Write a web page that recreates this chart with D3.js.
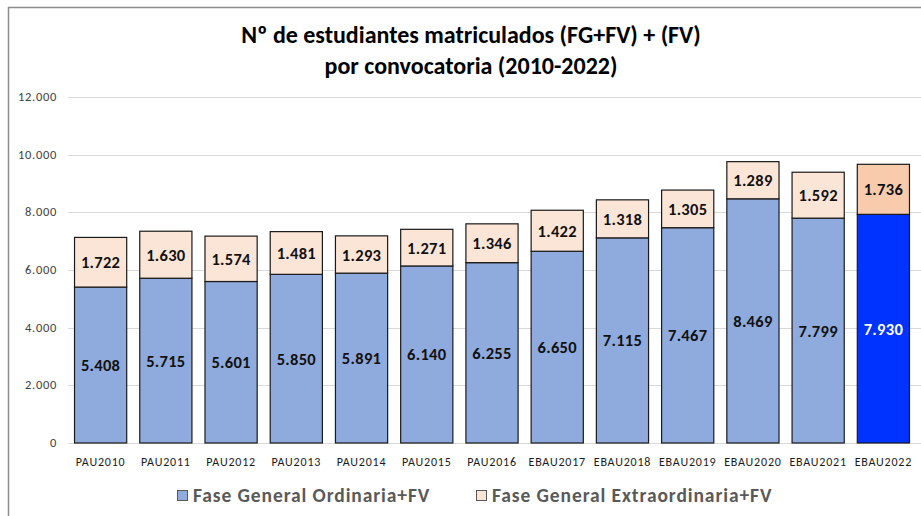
<!DOCTYPE html>
<html>
<head>
<meta charset="utf-8">
<script src="https://cdn.jsdelivr.net/npm/d3@7"></script>
<style>
  body { margin: 0; background: #fff; }
  svg { display: block; font-family: Carlito, "Open Sans", "Liberation Sans", sans-serif; }
</style>
</head>
<body>
<div id="chart"></div>
<script>
const categories = ["PAU2010", "PAU2011", "PAU2012", "PAU2013", "PAU2014", "PAU2015", "PAU2016",
  "EBAU2017", "EBAU2018", "EBAU2019", "EBAU2020", "EBAU2021", "EBAU2022"];
const ordinaria = [5408, 5715, 5601, 5850, 5891, 6140, 6255, 6650, 7115, 7467, 8469, 7799, 7930];
const extraordinaria = [1722, 1630, 1574, 1481, 1293, 1271, 1346, 1422, 1318, 1305, 1289, 1592, 1736];
const yTicks = [0, 2000, 4000, 6000, 8000, 10000, 12000];
const seriesNames = ["Fase General Ordinaria+FV", "Fase General Extraordinaria+FV"];

const width = 921, height = 516;
const margin = { left: 68, right: 5, top: 97, bottom: 73 };

const svg = d3.select("#chart").append("svg")
  .attr("width", width)
  .attr("height", height);

// outer frame (only top and left visible)
svg.append("path")
  .attr("d", `M8.5,${height} V7.5 H${width}`)
  .attr("fill", "none")
  .attr("stroke", "#8c8c8c")
  .attr("stroke-width", 1.5);

// title
const title = svg.append("text")
  .attr("text-anchor", "middle")
  .attr("font-weight", "bold")
  .attr("font-size", 24)
  .attr("fill", "#000");
title.append("tspan").attr("x", 471).attr("y", 43).text("Nº de estudiantes matriculados (FG+FV) + (FV)");
title.append("tspan").attr("x", 471).attr("y", 74).text("por convocatoria (2010-2022)");

const x = d3.scaleBand()
  .domain(categories)
  .range([margin.left, width - margin.right])
  .paddingInner(0.2)
  .paddingOuter(0.1);

const y = d3.scaleLinear()
  .domain([0, 12000])
  .range([height - margin.bottom, margin.top]);

const fmt = v => d3.format(",")(v).replace(/,/g, ".");

// gridlines
svg.append("g")
  .selectAll("line")
  .data(yTicks)
  .enter().append("line")
  .attr("x1", margin.left)
  .attr("x2", width)
  .attr("y1", d => Math.round(y(d)) + 0.5)
  .attr("y2", d => Math.round(y(d)) + 0.5)
  .attr("stroke", "#d9d9d9")
  .attr("stroke-width", 1);

// y tick labels
svg.append("g")
  .selectAll("text")
  .data(yTicks)
  .enter().append("text")
  .attr("x", 57)
  .attr("y", d => y(d) + 4)
  .attr("text-anchor", "end")
  .attr("font-size", 12.5)
  .attr("letter-spacing", 0.7)
  .attr("fill", "#404040")
  .text(fmt);

const last = categories.length - 1;
const data = categories.map((c, i) => ({ cat: c, ord: ordinaria[i], ext: extraordinaria[i], i }));

const bars = svg.append("g");

// bottom segment
bars.selectAll("rect.ord")
  .data(data)
  .enter().append("rect")
  .attr("class", "ord")
  .attr("x", d => x(d.cat))
  .attr("width", x.bandwidth())
  .attr("y", d => y(d.ord))
  .attr("height", d => y(0) - y(d.ord))
  .attr("fill", d => d.i === last ? "#0033ff" : "#8faadc")
  .attr("stroke", "#1a1a1a")
  .attr("stroke-width", 1.2);

// top segment
bars.selectAll("rect.ext")
  .data(data)
  .enter().append("rect")
  .attr("class", "ext")
  .attr("x", d => x(d.cat))
  .attr("width", x.bandwidth())
  .attr("y", d => y(d.ord + d.ext))
  .attr("height", d => y(d.ord) - y(d.ord + d.ext))
  .attr("fill", d => d.i === last ? "#f8cbad" : "#fbe5d6")
  .attr("stroke", "#1a1a1a")
  .attr("stroke-width", 1.2);

// value labels
bars.selectAll("text.ordLabel")
  .data(data)
  .enter().append("text")
  .attr("class", "ordLabel")
  .attr("x", d => x(d.cat) + x.bandwidth() / 2)
  .attr("y", d => (y(0) + y(d.ord)) / 2 + 6)
  .attr("text-anchor", "middle")
  .attr("font-size", 16.5)
  .attr("font-weight", "bold")
  .attr("letter-spacing", 0.3)
  .attr("fill", d => d.i === last ? "#fff" : "#111")
  .text(d => fmt(d.ord));

bars.selectAll("text.extLabel")
  .data(data)
  .enter().append("text")
  .attr("class", "extLabel")
  .attr("x", d => x(d.cat) + x.bandwidth() / 2)
  .attr("y", d => (y(d.ord) + y(d.ord + d.ext)) / 2 + 6)
  .attr("text-anchor", "middle")
  .attr("font-size", 16.5)
  .attr("font-weight", "bold")
  .attr("letter-spacing", 0.3)
  .attr("fill", "#111")
  .text(d => fmt(d.ext));

// x labels
svg.append("g")
  .selectAll("text")
  .data(categories)
  .enter().append("text")
  .attr("x", d => x(d) + x.bandwidth() / 2)
  .attr("y", 466)
  .attr("text-anchor", "middle")
  .attr("font-size", 12)
  .attr("letter-spacing", 0.8)
  .attr("fill", "#1a1a1a")
  .text(d => d);

// legend
const legend = svg.append("g");
const legendItems = [
  { name: seriesNames[0], color: "#8faadc", x: 177 },
  { name: seriesNames[1], color: "#fbe5d6", x: 476 }
];
legendItems.forEach(item => {
  legend.append("rect")
    .attr("x", item.x + 0.5)
    .attr("y", 490.5)
    .attr("width", 10)
    .attr("height", 10)
    .attr("fill", item.color)
    .attr("stroke", "#595959")
    .attr("stroke-width", 1);
  legend.append("text")
    .attr("x", item.x + 16)
    .attr("y", 502)
    .attr("font-size", 19.5)
    .attr("font-weight", "bold")
    .attr("letter-spacing", 0.9)
    .attr("fill", "#595959")
    .text(item.name);
});
</script>
</body>
</html>
